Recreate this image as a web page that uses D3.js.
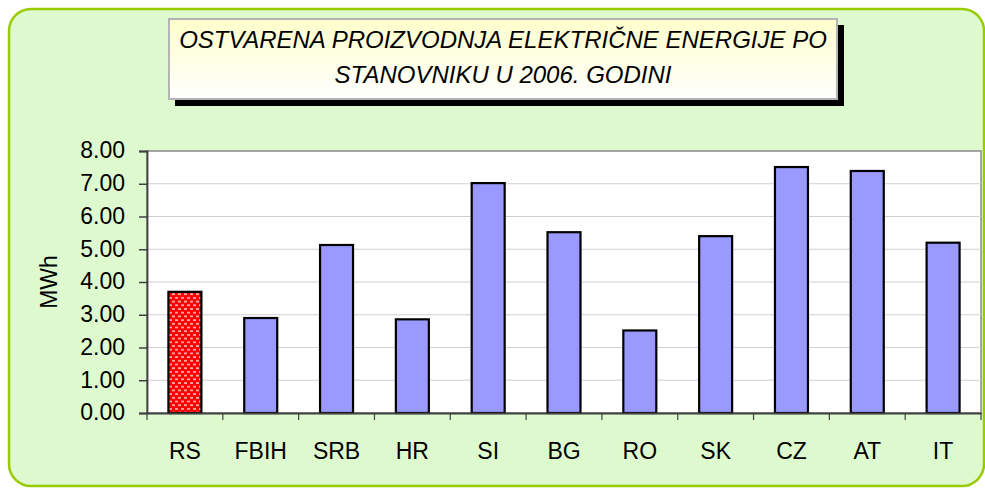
<!DOCTYPE html>
<html><head><meta charset="utf-8">
<script src="https://cdn.jsdelivr.net/npm/d3@7"></script>
<style>html,body{margin:0;padding:0;background:#fff;}svg{display:block;}</style>
</head><body>
<script>
const categories = ["RS","FBIH","SRB","HR","SI","BG","RO","SK","CZ","AT","IT"];
const values = [3.70, 2.90, 5.13, 2.86, 7.02, 5.52, 2.52, 5.40, 7.51, 7.39, 5.20];
const yTicks = [0,1,2,3,4,5,6,7,8];
const titleLines = ["OSTVARENA PROIZVODNJA ELEKTRIČNE ENERGIJE PO","STANOVNIKU U 2006. GODINI"];
const yLabel = "MWh";

const W = 985, H = 488;
const FONT = "Liberation Sans, Arial, sans-serif";
const svg = d3.select("body").append("svg").attr("width", W).attr("height", H);
const defs = svg.append("defs");

// background pattern
const bgp = defs.append("pattern").attr("id","bgpat").attr("width",2).attr("height",2).attr("patternUnits","userSpaceOnUse");
bgp.append("rect").attr("width",2).attr("height",2).attr("fill","#e2fcd3");
bgp.append("rect").attr("width",1).attr("height",1).attr("fill","#d9f7c8");
bgp.append("rect").attr("x",1).attr("y",1).attr("width",1).attr("height",1).attr("fill","#d9f7c8");

// red pattern
const rp = defs.append("pattern").attr("id","redpat").attr("width",6).attr("height",7.4).attr("patternUnits","userSpaceOnUse");
rp.append("rect").attr("width",6).attr("height",7.4).attr("fill","#ff0000");
rp.append("rect").attr("x",1).attr("y",1.2).attr("width",3).attr("height",1.4).attr("fill","#ffd6d6");
rp.append("rect").attr("x",4).attr("y",4.9).attr("width",3).attr("height",1.4).attr("fill","#ffd6d6");
rp.append("rect").attr("x",-2).attr("y",4.9).attr("width",3).attr("height",1.4).attr("fill","#ffd6d6");

const tg = defs.append("linearGradient").attr("id","titlegrad").attr("x1",0).attr("y1",0).attr("x2",0).attr("y2",1);
tg.append("stop").attr("offset","0%").attr("stop-color","#ffffcc");
tg.append("stop").attr("offset","100%").attr("stop-color","#ffffff");

// outer frame
svg.append("rect").attr("x",9).attr("y",9).attr("width",975).attr("height",477).attr("rx",22).attr("ry",22)
  .attr("fill","url(#bgpat)").attr("stroke","#99cc00").attr("stroke-width",2.5);

// title box
svg.append("rect").attr("x",175).attr("y",25).attr("width",669).attr("height",81).attr("fill","#000");
svg.append("rect").attr("x",169).attr("y",19).attr("width",668).attr("height",80).attr("fill","url(#titlegrad)")
  .attr("stroke","#b4b4b4").attr("stroke-width",2);
svg.append("g").selectAll("text").data(titleLines).join("text")
  .attr("x",503).attr("y",(d,i)=>48+i*35).attr("text-anchor","middle")
  .attr("font-family",FONT).attr("font-style","italic").attr("font-size",24)
  .attr("fill","#000").text(d=>d);

// plot area
const L = 147, R = 981, T = 151, B = 413;
const x = d3.scaleBand().domain(categories).range([L,R]).paddingInner(0.565).paddingOuter(0.2825);
const y = d3.scaleLinear().domain([0,8]).range([B,T]);

svg.append("rect").attr("x",L).attr("y",T).attr("width",R-L).attr("height",B-T).attr("fill","#fff")
  .attr("stroke","#888").attr("stroke-width",1.5);

// gridlines
svg.append("g").selectAll("line").data(yTicks.filter(d=>d>0 && d<8)).join("line")
  .attr("x1",L).attr("x2",R).attr("y1",d=>y(d)).attr("y2",d=>y(d))
  .attr("stroke","#d0d0d0").attr("stroke-width",1.2);

// bars
svg.append("g").selectAll("rect").data(categories).join("rect")
  .attr("x",d=>x(d)).attr("width",x.bandwidth())
  .attr("y",(d,i)=>y(values[i])).attr("height",(d,i)=>y(0)-y(values[i]))
  .attr("fill",(d,i)=>i===0?"url(#redpat)":"#9999ff")
  .attr("stroke","#000").attr("stroke-width",2.2);

// y axis
const yAxis = d3.axisLeft(y).tickValues(yTicks).tickFormat(d3.format(".2f")).tickSize(8).tickPadding(14);
const ya = svg.append("g").attr("transform",`translate(${L},0)`).call(yAxis);
ya.select(".domain").attr("stroke","#404040").attr("stroke-width",1.8);
ya.selectAll(".tick line").attr("stroke","#404040").attr("stroke-width",1.5);
ya.selectAll(".tick text").attr("font-family",FONT).attr("font-size",23).attr("fill","#000").attr("dy","0.3em");

// x axis
const step = x.step();
const xAxis = d3.axisBottom(x).tickSize(0).tickPadding(30);
const xa = svg.append("g").attr("transform",`translate(0,${B})`).call(xAxis);
xa.select(".domain").attr("stroke","#404040").attr("stroke-width",1.8);
xa.selectAll(".tick text").attr("font-family",FONT).attr("font-size",23).attr("fill","#000");
xa.append("g").selectAll("line").data(d3.range(categories.length+1)).join("line")
  .attr("x1",i=>L+i*step).attr("x2",i=>L+i*step).attr("y1",0).attr("y2",7)
  .attr("stroke","#404040").attr("stroke-width",1.2);

// y label
svg.append("text").attr("transform","translate(57,282) rotate(-90)").attr("text-anchor","middle")
  .attr("font-family",FONT).attr("font-size",23).attr("fill","#000").text(yLabel);
</script>
</body></html>
